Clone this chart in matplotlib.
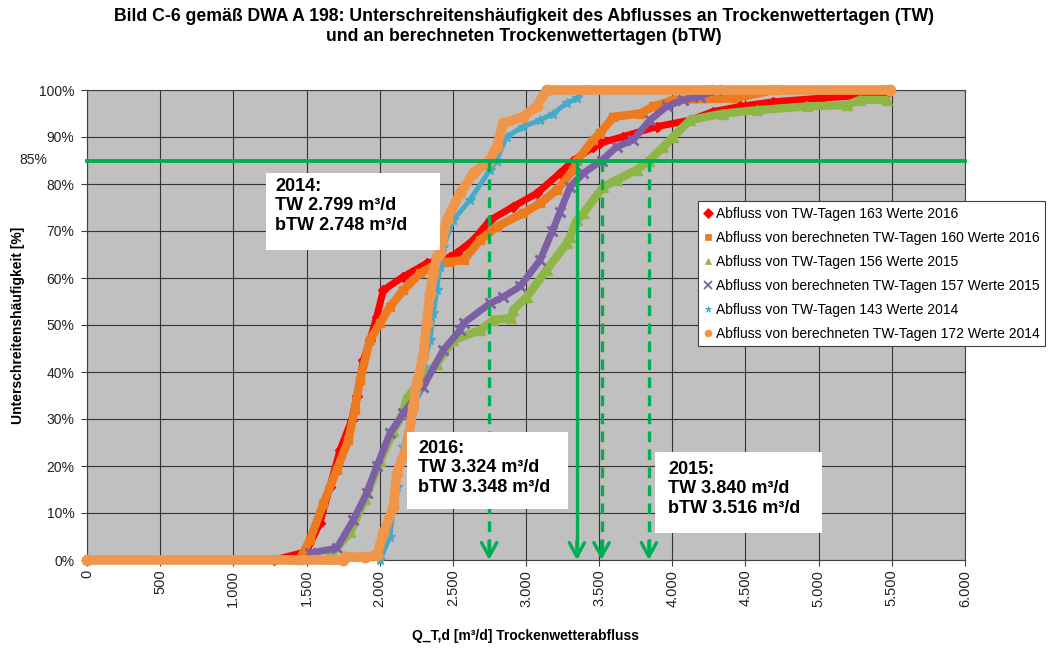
import matplotlib
matplotlib.use("Agg")
import matplotlib.pyplot as plt
from matplotlib.lines import Line2D
from matplotlib.patches import Rectangle
import matplotlib.transforms as mtransforms

plt.rcParams['font.family'] = ['Liberation Sans', 'DejaVu Sans']

# Unterschreitungslinien je Jahr (Q in m³/d, Häufigkeit in %)
tw16_q = [1280, 1500, 1592, 1660, 1729, 1809, 1843, 1889, 1934, 1980, 2025, 2162, 2321, 2481,
          2526, 2640, 2754, 2913, 3073, 3232, 3324, 3460, 3506, 3666, 3893, 4121, 4278, 4462,
          4690, 5030, 5235, 5467]
tw16_p = [0, 1.8, 7.9, 15.6, 23.4, 29.8, 34.8, 42.5, 46.8, 51.8, 57.4, 60.3, 63.1, 64.5,
          65.3, 68.1, 72.3, 75.2, 78.0, 82.3, 85.0, 87.9, 88.7, 90.1, 92.2, 93.6, 95.4, 96.5,
          97.5, 98.3, 98.7, 99.4]

btw16_q = [1450, 1524, 1615, 1706, 1786, 1830, 1866, 1934, 2002, 2071, 2162, 2276, 2390, 2480,
           2574, 2686, 2800, 2982, 3096, 3210, 3324, 3348, 3460, 3506, 3597, 3779, 3870, 4007,
           4417, 4700]
btw16_p = [0, 4.3, 12.0, 19.1, 25.5, 32.0, 38.3, 46.8, 50.4, 53.9, 57.4, 61.0, 63.1, 63.5,
           63.8, 68.1, 70.9, 73.8, 75.9, 78.7, 83.0, 85.0, 89.4, 90.8, 94.3, 95.0, 96.5, 97.9,
           98.2, 100]

tw15_q = [1650, 1800, 1900, 2002, 2094, 2162, 2185, 2298, 2390, 2503, 2686, 2777, 2900, 2913,
          3005, 3141, 3278, 3301, 3346, 3392, 3528, 3620, 3756, 3840, 3939, 4007, 4121, 4348,
          4576, 4918, 5191, 5282, 5465]
tw15_p = [0.5, 6.0, 13.0, 21.0, 27.5, 31.5, 34.5, 38.5, 41.8, 46.8, 48.9, 51.1, 51.5, 53.2,
          56.0, 61.7, 67.4, 68.8, 72.3, 73.8, 79.4, 80.9, 83.0, 85.0, 87.9, 90.1, 93.6, 95.0,
          95.7, 96.5, 96.8, 97.9, 97.9]

btw15_q = [1525, 1706, 1820, 1911, 1980, 2071, 2162, 2298, 2435, 2549, 2574, 2754, 2845, 2959,
           3096, 3180, 3232, 3301, 3392, 3516, 3620, 3733, 3847, 3961, 4075, 4189, 4300]
btw15_p = [1.5, 2.5, 8.5, 14.2, 19.9, 27.0, 31.2, 36.9, 44.7, 48.9, 50.4, 54.6, 56.0, 58.2,
           63.8, 70.0, 74.0, 79.4, 82.3, 85.0, 87.9, 89.4, 93.6, 96.5, 97.9, 98.6, 100]

tw14_q = [2002, 2071, 2094, 2116, 2162, 2207, 2253, 2298, 2344, 2367, 2390, 2412, 2435, 2503,
          2617, 2754, 2799, 2868, 2982, 3096, 3187, 3278, 3346, 3400]
tw14_p = [0, 5.0, 11.3, 15.6, 24.1, 29.8, 35.5, 41.1, 46.8, 52.5, 57.4, 62.4, 66.7, 72.3,
          76.6, 83.0, 85.0, 90.1, 92.2, 93.6, 95.0, 97.2, 98.2, 100]

btw14_q = [0, 1750, 1760, 1900, 1980, 2025, 2094, 2116, 2185, 2230, 2253, 2298, 2321, 2344,
           2367, 2390, 2412, 2458, 2549, 2640, 2748, 2800, 2845, 2982, 3073, 3141, 5490]
btw14_p = [0, 0, 0.6, 0.6, 1.0, 5.7, 11.3, 18.4, 24.1, 32.6, 37.6, 43.3, 50.4, 56.7,
           61.0, 64.5, 65.3, 72.3, 78.0, 82.3, 85.0, 87.9, 92.9, 94.3, 96.5, 100, 100]

labels = ['Abfluss von TW-Tagen 163 Werte 2016',
          'Abfluss von berechneten TW-Tagen 160 Werte 2016',
          'Abfluss von TW-Tagen 156 Werte 2015',
          'Abfluss von berechneten TW-Tagen 157 Werte 2015',
          'Abfluss von TW-Tagen 143 Werte 2014',
          'Abfluss von berechneten TW-Tagen 172 Werte 2014']

# 85%-Werte je Jahr
q85_2014 = 2748
q85_2016 = 3348
q85_2015_btw = 3516
q85_2015_tw = 3840

x_ticks = [0, 500, 1000, 1500, 2000, 2500, 3000, 3500, 4000, 4500, 5000, 5500, 6000]
x_ticklabels = ['0', '500', '1.000', '1.500', '2.000', '2.500', '3.000', '3.500',
                '4.000', '4.500', '5.000', '5.500', '6.000']
y_ticks = [0, 10, 20, 30, 40, 50, 60, 70, 80, 90, 100]

green = '#00B050'

fig = plt.figure(figsize=(10.48, 6.48), dpi=100)
ax = fig.add_axes([87 / 1048, 88 / 648, 878 / 1048, 470 / 648])
ax.set_facecolor('#C0C0C0')

series = [
    (tw16_q, tw16_p, '#FF0000', 'D', 5.5, 5.0),
    (btw16_q, btw16_p, '#EE7A1E', 's', 6.0, 6.0),
    (tw15_q, tw15_p, '#8DB646', '^', 7.5, 6.0),
    (btw15_q, btw15_p, '#7D5FA5', 'x', 7.0, 5.0),
    (tw14_q, tw14_p, '#46AAC8', '*', 7.0, 3.5),
    (btw14_q, btw14_p, '#F0964A', 'o', 7.5, 7.0),
]
handles = []
for (q, p, col, mk, ms, lw), lab in zip(series, labels):
    ax.plot(q, p, color=col, lw=lw, marker=mk, ms=ms, mew=2 if mk == 'x' else 1,
            mec=col, mfc=col, clip_on=False, zorder=3, solid_capstyle='butt',
            solid_joinstyle='round')
    handles.append(Line2D([], [], ls='none', marker=mk, color=col, mfc=col, mec=col,
                          ms=5 if mk != 'x' else 5.5, mew=1.3 if mk == 'x' else 0.5))

# 85%-Linie und Pfeile
ax.plot([0, 6000], [85, 85], color=green, lw=2.8, zorder=4, clip_on=False)
for qv, style in [(q85_2014, 'dashed'), (q85_2016, 'solid'),
                  (q85_2015_btw, 'dashed'), (q85_2015_tw, 'dashed')]:
    ls = (0, (3.2, 2.2)) if style == 'dashed' else '-'
    ax.plot([qv, qv], [85, 1], color=green, lw=2.4, ls=ls, zorder=4)
    ax.annotate('', xy=(qv, 0), xytext=(qv, 4),
                arrowprops=dict(arrowstyle='->,head_length=1.0,head_width=0.55',
                                color=green, lw=2.4, shrinkA=0, shrinkB=0), zorder=5)

# Textboxen
boxes = [
    ((1223, 66.0), 1189, 16.3, (1285, 81.3), '2014:\nTW 2.799 m³/d\nbTW 2.748 m³/d'),
    ((2187, 10.8), 1100, 16.5, (2262, 25.6), '2016:\nTW 3.324 m³/d\nbTW 3.348 m³/d'),
    ((3882, 5.7), 1141, 17.3, (3970, 21.1), '2015:\nTW 3.840 m³/d\nbTW 3.516 m³/d'),
]
for (x0, y0), w, h, (tx, ty), txt in boxes:
    ax.add_patch(Rectangle((x0, y0), w, h, fc='white', ec='none', zorder=6))
    ax.text(tx, ty, txt, fontsize=13, fontweight='bold', ha='left', va='top',
            linespacing=1.2, zorder=7)

ax.set_xlim(0, 6000)
ax.set_ylim(0, 100)
ax.set_xticks(x_ticks)
ax.set_xticklabels(x_ticklabels, rotation=90, fontsize=10.5, color='#222222')
ax.set_yticks(y_ticks)
ax.set_yticklabels([f'{v}%' for v in y_ticks], fontsize=10, color='#222222')
ax.tick_params(axis='y', length=4, width=0.8, color='#404040', pad=5)
ax.tick_params(axis='x', length=4, width=0.8, color='#404040', pad=3)
ax.grid(True, color='#333333', lw=0.8)
ax.set_axisbelow(True)
for sp in ax.spines.values():
    sp.set_color('#404040')
    sp.set_linewidth(0.8)

trans = mtransforms.blended_transform_factory(ax.transAxes, ax.transData)
ax.text(-0.077, 85, '85%', transform=trans, fontsize=10, color='#222222',
        ha='left', va='center')

ax.set_xlabel('Q_T,d [m³/d] Trockenwetterabfluss', fontsize=10, fontweight='bold', labelpad=16)
ax.set_ylabel('Unterschreitenshäufigkeit [%]', fontsize=10, fontweight='bold', labelpad=10)

fig.suptitle('Bild C-6 gemäß DWA A 198: Unterschreitenshäufigkeit des Abflusses an Trockenwettertagen (TW)\n'
             'und an berechneten Trockenwettertagen (bTW)',
             fontsize=12.7, fontweight='bold', x=0.5, y=0.988, linespacing=1.22)

leg = fig.legend(handles, labels, loc='upper left', bbox_to_anchor=(698 / 1048, 1 - 201 / 648),
                 bbox_transform=fig.transFigure, fontsize=10, frameon=True, fancybox=False,
                 edgecolor='#404040', framealpha=1, borderpad=0.4, labelspacing=0.72,
                 handlelength=0.6, handletextpad=0.3, borderaxespad=0)
leg.get_frame().set_linewidth(0.8)
leg.set_zorder(10)

fig.savefig('out.png', dpi=100)
